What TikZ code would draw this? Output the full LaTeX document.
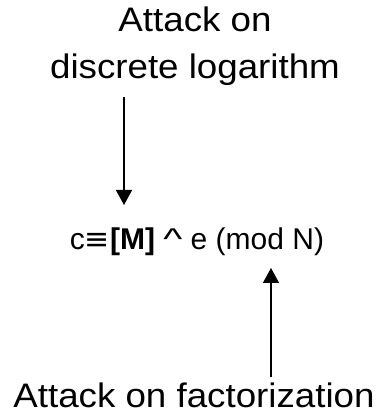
\documentclass[tikz,border=0pt]{standalone}
\usepackage{fontspec}
\setmainfont{Liberation Sans}
\newfontfamily\attackfont{Liberation Sans}[FakeStretch=1.08]
\newfontfamily\symfont{DejaVu Sans}
\usepackage{tikz}
\usetikzlibrary{arrows.meta,positioning,calc}

\begin{document}
\begin{tikzpicture}[x=1pt,y=1pt,every node/.style={inner sep=0pt,outer sep=0pt}]
    \useasboundingbox (0,0) rectangle (383,416);
    \tikzset{attack/.style={font=\attackfont\fontsize{34}{47}\selectfont,align=center,anchor=base},
             arr/.style={line width=1.5pt,-{Triangle[length=15pt,width=16pt]}}}
    % formula and the two attacks
    \node[font=\fontsize{30}{36}\selectfont,anchor=base] (formula) at (197,166)
        {c{\symfont ≡}\textbf{[M]} \scalebox{1.35}[1]{\textasciicircum} e (mod N)};
    \node[attack] (dlog) at (195,337) {Attack on\\discrete logarithm};
    \node[attack] (fact) at (194,9) {Attack on factorization};
    % arrow ends
    \coordinate (dltail) at (124,319);
    \coordinate (dlhead) at (124,211);
    \coordinate (facttail) at (271,39);
    \coordinate (facthead) at (271,148);
    \draw[arr] (dltail) -- (dlhead);
    \draw[arr] (facttail) -- (facthead);
\end{tikzpicture}
\end{document}
